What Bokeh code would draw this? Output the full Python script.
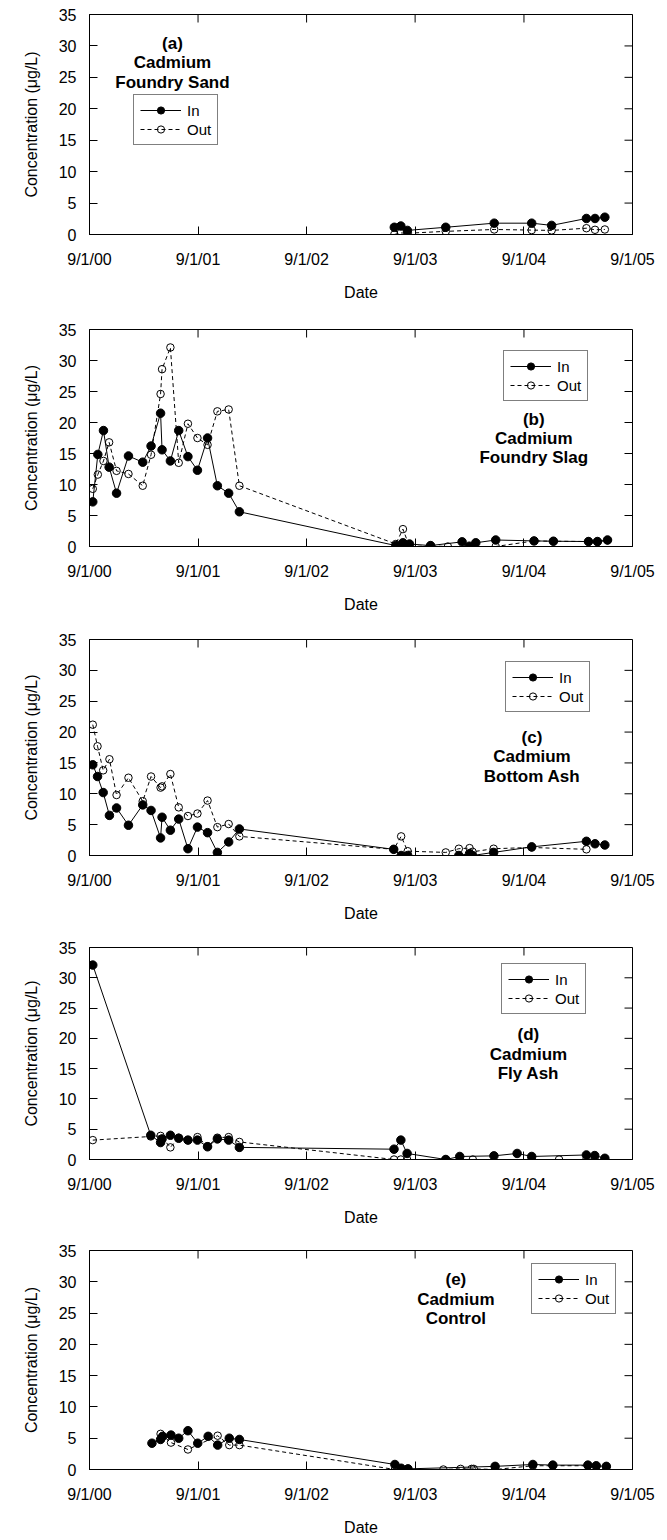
import math
import pandas as pd
from bokeh.plotting import figure
from bokeh.layouts import column
from bokeh.models import Range1d, FixedTicker, Legend, LegendItem, Label
from bokeh.embed import file_html
from bokeh.resources import INLINE

FONT = "Liberation Sans"

# ---------------- data ----------------
tick_dates = ["2000-09-01", "2001-09-01", "2002-09-01", "2003-09-01", "2004-09-01", "2005-09-01"]
tick_labels = ["9/1/00", "9/1/01", "9/1/02", "9/1/03", "9/1/04", "9/1/05"]
y_ticks = [0, 5, 10, 15, 20, 25, 30, 35]

# (a) Foundry Sand
A_in_dates = ["2003-06-23", "2003-07-15", "2003-08-06", "2003-12-13", "2004-05-24", "2004-09-27",
              "2004-12-03", "2005-03-30", "2005-04-28", "2005-05-31"]
A_in = [1.15, 1.35, 0.65, 1.15, 1.8, 1.8, 1.45, 2.55, 2.55, 2.75]
A_out_dates = ["2003-06-23", "2003-07-15", "2003-08-06", "2003-12-13", "2004-05-24", "2004-09-27",
               "2004-12-03", "2005-03-30", "2005-04-28", "2005-05-31"]
A_out = [0.0, 0.25, 0.2, 0.5, 0.8, 0.7, 0.65, 1.0, 0.75, 0.8]

# (b) Foundry Slag
B_in_dates = ["2000-09-12", "2000-09-29", "2000-10-18", "2000-11-06", "2000-12-01", "2001-01-10",
              "2001-02-27", "2001-03-27", "2001-04-28", "2001-05-03", "2001-05-31", "2001-06-28",
              "2001-07-29", "2001-08-30", "2001-10-03", "2001-11-05", "2001-12-13", "2002-01-18",
              "2003-06-28", "2003-07-22", "2003-08-13", "2003-10-23", "2004-02-06", "2004-03-01",
              "2004-03-23", "2004-05-29", "2004-10-05", "2004-12-09", "2005-04-06", "2005-05-06",
              "2005-06-09"]
B_in = [7.2, 14.85, 18.7, 12.8, 8.6, 14.6, 13.6, 16.2, 21.5, 15.6, 13.8, 18.7, 14.5, 12.3, 17.5,
        9.8, 8.6, 5.6, 0.15, 0.6, 0.4, 0.15, 0.75, 0.05, 0.6, 1.05, 0.9, 0.85, 0.8, 0.8, 1.05]
B_out_dates = ["2000-09-12", "2000-09-29", "2000-10-18", "2000-11-06", "2000-12-01", "2001-01-10",
               "2001-02-27", "2001-03-27", "2001-04-28", "2001-05-03", "2001-05-31", "2001-06-28",
               "2001-07-29", "2001-08-30", "2001-10-03", "2001-11-05", "2001-12-13", "2002-01-18",
               "2003-06-28", "2003-07-22", "2003-08-13", "2003-10-23", "2003-12-20", "2004-05-29",
               "2004-10-05", "2004-12-09", "2005-04-06", "2005-05-06", "2005-06-09"]
B_out = [9.3, 11.6, 13.8, 16.8, 12.2, 11.7, 9.8, 14.8, 24.6, 28.6, 32.1, 13.5, 19.8, 17.5, 16.4,
         21.8, 22.1, 9.8, 0.4, 2.8, 0.0, 0.1, 0.0, 0.0, 0.9, 0.85, 0.8, 0.75, 1.0]

# (c) Bottom Ash
C_in_dates = ["2000-09-12", "2000-09-28", "2000-10-17", "2000-11-07", "2000-12-01", "2001-01-10",
              "2001-02-27", "2001-03-27", "2001-04-28", "2001-05-03", "2001-05-31", "2001-06-28",
              "2001-07-29", "2001-08-30", "2001-10-03", "2001-11-05", "2001-12-13", "2002-01-18",
              "2003-06-21", "2003-07-16", "2003-08-07", "2004-01-26", "2004-03-02", "2004-03-12",
              "2004-05-22", "2004-09-27", "2005-03-30", "2005-04-28", "2005-05-31"]
C_in = [14.7, 12.8, 10.2, 6.5, 7.7, 4.9, 8.2, 7.3, 2.85, 6.2, 4.1, 5.9, 1.1, 4.6, 3.7, 0.5, 2.2,
        4.3, 1.0, 0.0, 0.0, 0.0, 0.3, 0.0, 0.5, 1.4, 2.3, 1.9, 1.7]
C_out_dates = ["2000-09-12", "2000-09-28", "2000-10-17", "2000-11-07", "2000-12-01", "2001-01-10",
               "2001-02-27", "2001-03-27", "2001-04-28", "2001-05-03", "2001-05-31", "2001-06-28",
               "2001-07-29", "2001-08-30", "2001-10-03", "2001-11-05", "2001-12-13", "2002-01-18",
               "2003-06-21", "2003-07-16", "2003-08-07", "2003-12-13", "2004-01-26", "2004-03-02",
               "2004-03-12", "2004-05-22", "2004-09-27", "2005-03-30"]
C_out = [21.2, 17.7, 13.8, 15.6, 9.8, 12.6, 8.8, 12.8, 11.0, 11.2, 13.2, 7.8, 6.4, 6.8, 8.9, 4.6,
         5.1, 3.1, 1.0, 3.1, 0.7, 0.5, 1.1, 1.2, 0.6, 1.1, 1.3, 1.0]

# (d) Fly Ash
D_in_dates = ["2000-09-12", "2001-03-26", "2001-04-28", "2001-05-03", "2001-05-31", "2001-06-28",
              "2001-07-29", "2001-08-30", "2001-10-03", "2001-11-05", "2001-12-13", "2002-01-18",
              "2003-06-22", "2003-07-15", "2003-08-05", "2003-12-13", "2004-01-29", "2004-05-23",
              "2004-08-09", "2004-09-27", "2005-03-30", "2005-04-27", "2005-05-31"]
D_in = [32.1, 4.0, 2.8, 3.4, 4.0, 3.5, 3.2, 3.2, 2.1, 3.4, 3.2, 2.0, 1.7, 3.2, 1.0, 0.0, 0.5, 0.6,
        1.0, 0.5, 0.75, 0.65, 0.2]
D_out_dates = ["2000-09-12", "2001-03-26", "2001-04-28", "2001-05-31", "2001-06-28", "2001-07-29",
               "2001-08-30", "2001-10-03", "2001-11-05", "2001-12-13", "2002-01-18", "2003-06-22",
               "2003-07-15", "2003-08-05", "2003-12-13", "2004-01-29", "2004-03-13", "2004-09-27",
               "2004-12-28", "2005-03-30", "2005-04-27", "2005-05-31"]
D_out = [3.2, 3.8, 3.9, 2.0, 3.6, 3.2, 3.7, 2.2, 3.6, 3.7, 2.9, 0.0, 0.0, 0.0, 0.0, 0.0, 0.0, 0.0,
         0.0, 0.0, 0.0, 0.0]

# (e) Control
E_in_dates = ["2001-03-30", "2001-04-28", "2001-05-05", "2001-06-02", "2001-06-28", "2001-07-29",
              "2001-08-31", "2001-10-05", "2001-11-06", "2001-12-15", "2002-01-18", "2003-06-25",
              "2003-07-16", "2003-08-08", "2004-05-27", "2004-10-01", "2004-12-07", "2005-04-04",
              "2005-05-02", "2005-06-05"]
E_in = [4.2, 4.8, 5.3, 5.5, 5.0, 6.2, 4.2, 5.3, 3.9, 5.0, 4.8, 0.8, 0.2, 0.1, 0.5, 0.8, 0.7, 0.7,
        0.6, 0.5]
E_out_dates = ["2001-04-28", "2001-06-02", "2001-07-29", "2001-11-06", "2001-12-15", "2002-01-18",
               "2003-06-25", "2003-08-08", "2003-12-05", "2004-02-01", "2004-03-09", "2004-03-16",
               "2004-05-27", "2004-10-01", "2004-12-07", "2005-04-04", "2005-05-02", "2005-06-05"]
E_out = [5.7, 4.3, 3.2, 5.4, 3.9, 3.9, 0.0, 0.0, 0.0, 0.1, 0.1, 0.1, 0.0, 0.6, 0.6, 0.6, 0.5, 0.4]

panel_texts = [
    ["(a)", "Cadmium", "Foundry Sand"],
    ["(b)", "Cadmium", "Foundry Slag"],
    ["(c)", "Cadmium", "Bottom Ash"],
    ["(d)", "Cadmium", "Fly Ash"],
    ["(e)", "Cadmium", "Control"],
]

# ---------------- layout (positions / sizes, page pixels) ----------------
layouts = [
    dict(h=303, top=14, bottom=66, left=79, fw=562, txt_x="2001-06-07", txt_y=[30.4, 27.3, 24.2], leg=(44, 89)),
    dict(h=312, top=26, bottom=66, left=82, fw=559, txt_x="2004-10-04", txt_y=[20.5, 17.5, 14.3], leg=(414, 145)),
    dict(h=309, top=24, bottom=66, left=88, fw=548, txt_x="2004-09-28", txt_y=[19.2, 16.0, 12.8], leg=(416, 143)),
    dict(h=304, top=23, bottom=66, left=89, fw=545, txt_x="2004-09-16", txt_y=[20.7, 17.4, 14.2], leg=(412, 145)),
    dict(h=310, top=22, bottom=66, left=83, fw=549, txt_x="2004-01-16", txt_y=[30.3, 27.1, 24.1], leg=(442, 155)),
]

FIG_W = 667
Y_MAX = 35
TICK_LEN = 8


def ms(d):
    return float(pd.Timestamp(d).value // 10**6)


x_ticks = [ms(d) for d in tick_dates]
overrides = {t: lab for t, lab in zip(x_ticks, tick_labels)}


def style_axis(ax):
    ax.major_tick_in = TICK_LEN
    ax.major_tick_out = 0
    ax.minor_tick_line_color = None
    ax.axis_line_color = "black"
    ax.major_tick_line_color = "black"
    ax.major_label_text_font = FONT
    ax.major_label_text_font_size = "16px"
    ax.major_label_text_color = "black"
    ax.axis_label_text_font = FONT
    ax.axis_label_text_font_size = "16px"
    ax.axis_label_text_font_style = "normal"
    ax.axis_label_text_color = "black"


def make_panel(in_dates, in_vals, out_dates, out_vals, texts, lay):
    right = FIG_W - lay["left"] - lay["fw"]
    p = figure(width=FIG_W, height=lay["h"], output_backend="svg", toolbar_location=None,
               x_range=Range1d(x_ticks[0], x_ticks[-1]), y_range=Range1d(0, Y_MAX),
               min_border_left=lay["left"], min_border_right=right,
               min_border_top=lay["top"], min_border_bottom=lay["bottom"])
    p.xgrid.visible = False
    p.ygrid.visible = False
    p.outline_line_color = "black"
    p.background_fill_color = "white"
    p.border_fill_color = "white"

    xa = p.xaxis[0]
    xa.ticker = FixedTicker(ticks=x_ticks)
    xa.major_label_overrides = overrides
    xa.axis_label = "Date"
    style_axis(xa)
    xa.major_label_standoff = 16
    xa.axis_label_standoff = 13

    ya = p.yaxis[0]
    ya.ticker = FixedTicker(ticks=y_ticks)
    ya.axis_label = "Concentration (\u03bcg/L)"
    style_axis(ya)
    ya.major_label_standoff = 13
    ya.axis_label_standoff = 16

    # inward tick marks on the top and right frame edges
    p.ray(x=x_ticks, y=[Y_MAX] * len(x_ticks), length=TICK_LEN, length_units="screen",
          angle=-math.pi / 2, line_color="black", line_width=1)
    p.ray(x=[x_ticks[-1]] * len(y_ticks), y=y_ticks, length=TICK_LEN, length_units="screen",
          angle=math.pi, line_color="black", line_width=1)

    xin = [ms(d) for d in in_dates]
    xout = [ms(d) for d in out_dates]

    out_line = p.line(xout, out_vals, line_color="black", line_width=1, line_dash="4 3")
    out_pts = p.scatter(xout, out_vals, marker="circle", size=7.5, line_color="black",
                        line_width=1, fill_color=None)
    in_line = p.line(xin, in_vals, line_color="black", line_width=1)
    in_pts = p.scatter(xin, in_vals, marker="circle", size=8.5, line_color="black",
                       fill_color="black")

    legend = Legend(items=[LegendItem(label="In", renderers=[in_line, in_pts]),
                           LegendItem(label="Out", renderers=[out_line, out_pts])],
                    location=lay["leg"], glyph_width=41, glyph_height=18, label_height=18,
                    label_standoff=6, padding=6, spacing=1, margin=0,
                    label_text_font=FONT, label_text_font_size="15px",
                    label_text_color="black",
                    border_line_color="black", border_line_width=1,
                    background_fill_color="white", background_fill_alpha=1)
    p.add_layout(legend)

    for t, yv in zip(texts, lay["txt_y"]):
        p.add_layout(Label(x=ms(lay["txt_x"]), y=yv, text=t, text_align="center",
                           text_baseline="middle", text_font=FONT, text_font_style="bold",
                           text_font_size="17px", text_color="black"))
    return p


series = [
    (A_in_dates, A_in, A_out_dates, A_out),
    (B_in_dates, B_in, B_out_dates, B_out),
    (C_in_dates, C_in, C_out_dates, C_out),
    (D_in_dates, D_in, D_out_dates, D_out),
    (E_in_dates, E_in, E_out_dates, E_out),
]

figs = [make_panel(*s, txt, lay) for s, txt, lay in zip(series, panel_texts, layouts)]
layout = column(*figs, spacing=0)

open("out.html", "w").write(file_html(layout, INLINE))
